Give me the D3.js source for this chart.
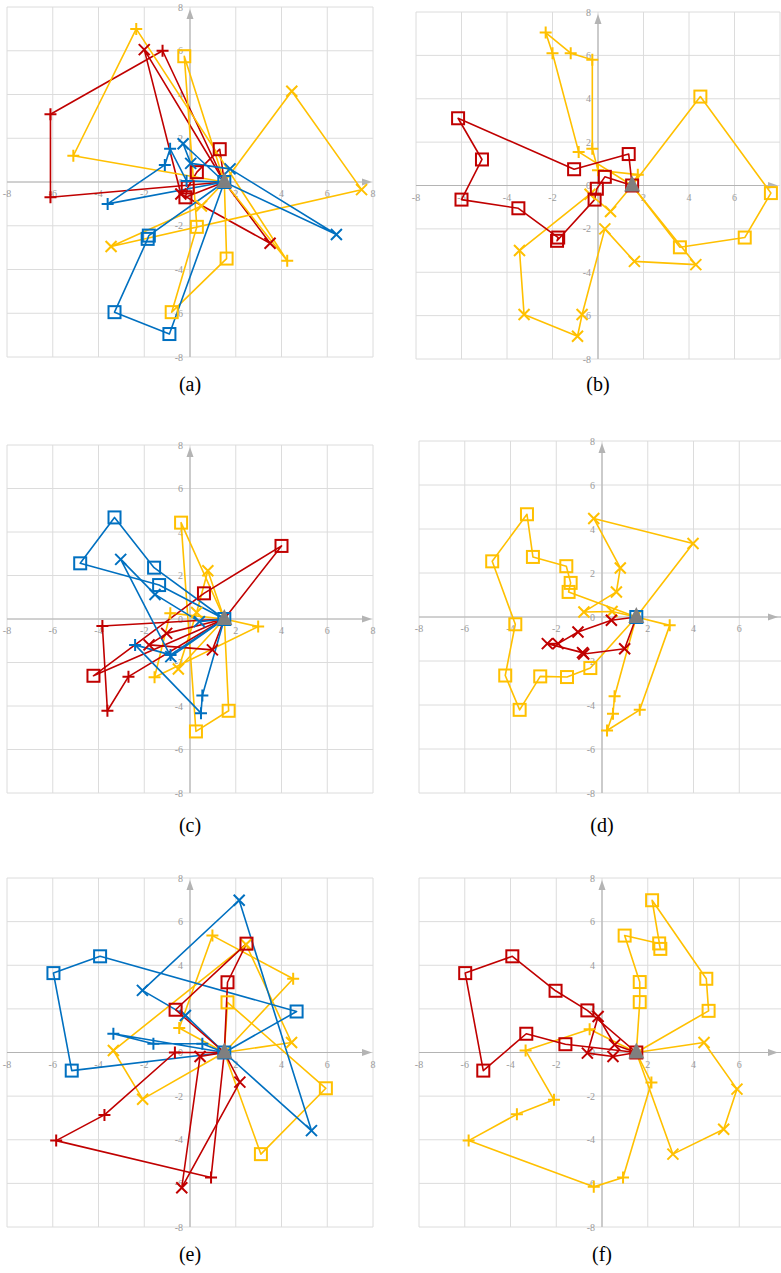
<!DOCTYPE html>
<html><head><meta charset="utf-8">
<script src="https://cdn.jsdelivr.net/npm/d3@7"></script>
<style>html,body{margin:0;padding:0;background:#fff;}svg{display:block;}</style>
</head><body>
<svg id="chart" width="781" height="1273"></svg>
<script>
// ---------- data ----------
const CENTER = [1.5, 0];
const ticks = [-8, -6, -4, -2, 0, 2, 4, 6, 8];
const captions = ["(a)", "(b)", "(c)", "(d)", "(e)", "(f)"];

// panel (a)
const aRedPlus = [[-1.2,6.0],[-6.1,3.1],[-6.1,-0.7]];
const aRedCross = [[-2.0,6.05],[-0.4,-0.55],[3.5,-2.8]];
const aRedSquare = [[1.3,1.5],[0.3,0.45],[-0.1,-0.25],[-0.2,-0.7]];
const aYellowPlus = [[-5.1,1.2],[-2.35,7.0],[4.25,-3.6]];
const aYellowCross = [[4.45,4.15],[7.5,-0.35],[-3.45,-2.95],[0.5,-1.1]];
const aYellowSquare = [[-0.25,5.75],[0.3,-2.05],[-0.8,-5.95],[1.6,-3.5]];
const aBlueSquare = [[-1.8,-2.45],[-1.85,-2.6],[-3.3,-5.95],[-0.9,-6.95]];
const aBluePlus = [[-0.15,0.05],[-0.87,1.52],[-1.1,0.78],[-3.6,-1.0]];
const aBlueCross = [[-0.3,1.75],[0.03,0.85],[1.75,0.6],[6.4,-2.4]];

// panel (b)
const bRedSquare = [[1.35,1.45],[-1.05,0.75],[-6.15,3.1],[-5.1,1.2],[-6.0,-0.65],[-3.5,-1.05],[-1.75,-2.4],[-1.8,-2.55],[-0.15,-0.65],[-0.05,-0.15],[0.3,0.4]];
const bYellowPlus = [[1.75,0.5],[0.0,0.7],[-0.25,1.7],[-0.25,5.8],[-1.2,6.1],[-2.3,7.05],[-2.0,6.1],[-0.85,1.55]];
const bYellowSquare = [[4.5,4.1],[7.6,-0.35],[6.45,-2.4],[3.6,-2.85]];
const bYellowCross = [[0.55,-1.2],[-0.35,-0.4],[-3.45,-3.0],[-3.25,-5.95],[-0.9,-6.95],[-0.7,-5.95],[0.3,-2.0],[1.6,-3.5],[4.3,-3.65]];

// panel (c)
const cRedSquare = [[4.0,3.36],[0.61,1.18],[-4.22,-2.61]];
const cRedPlus = [[-3.83,-0.32],[-3.61,-4.22],[-2.69,-2.65]];
const cRedCross = [[-1.02,-0.66],[-1.79,-1.19],[0.98,-1.42]];
const cYellowSquare = [[-0.39,4.43],[0.26,-5.17],[1.69,-4.22]];
const cYellowCross = [[0.78,2.22],[0.29,0.3],[-0.51,-2.3]];
const cYellowPlus = [[2.98,-0.35],[-1.55,-2.68],[-0.86,0.27]];
const cBlueSquare = [[-1.57,2.36],[-3.3,4.67],[-4.8,2.56],[-1.35,1.56]];
const cBlueCross = [[0.41,-0.12],[-1.53,1.13],[-3.03,2.74],[-0.84,-1.73]];
const cBluePlus = [[-0.85,-1.65],[-2.4,-1.19],[0.48,-4.33],[0.54,-3.52]];

// panel (d)
const dRedCross = [[0.41,-0.15],[-1.05,-0.68],[-1.92,-1.21],[-2.39,-1.21],[-0.85,-1.62],[-0.8,-1.68],[0.99,-1.44]];
const dYellowSquare = [[-1.46,1.14],[-1.37,1.55],[-1.56,2.31],[-3.02,2.73],[-3.28,4.67],[-4.8,2.53],[-3.79,-0.33],[-4.23,-2.66],[-3.6,-4.22],[-2.7,-2.7],[-1.53,-2.73],[-0.51,-2.32]];
const dYellowCross = [[3.98,3.34],[-0.36,4.48],[0.8,2.23],[0.63,1.14],[-0.79,0.23],[0.44,0.25]];
const dYellowPlus = [[2.96,-0.38],[1.65,-4.22],[0.22,-5.16],[0.48,-4.4],[0.55,-3.6]];

// panel (e)
const eRedSquare = [[-0.63,1.96],[2.47,4.99],[1.64,3.22]];
const eRedPlus = [[-0.66,0.0],[-3.74,-2.86],[-5.85,-4.04],[0.92,-5.73]];
const eRedCross = [[0.44,-0.18],[-0.36,-6.2],[2.18,-1.36]];
const eYellowPlus = [[-0.47,1.12],[0.98,5.36],[4.51,3.38]];
const eYellowCross = [[4.44,0.46],[2.45,4.95],[-3.35,0.09],[-2.07,-2.14]];
const eYellowSquare = [[1.64,2.3],[5.94,-1.64],[3.1,-4.66]];
const eBlueSquare = [[4.66,1.88],[-3.93,4.41],[-5.97,3.64],[-5.17,-0.83]];
const eBlueCross = [[-0.2,1.7],[-2.08,2.85],[2.15,6.98],[5.31,-3.58]];
const eBluePlus = [[0.54,0.4],[-1.6,0.4],[-3.35,0.86]];

// panel (f)
const fRedSquare = [[-0.64,1.93],[-2.03,2.83],[-3.92,4.41],[-5.98,3.64],[-5.19,-0.83],[-3.31,0.86],[-1.6,0.38]];
const fRedCross = [[0.55,0.35],[-0.17,1.65],[-0.64,-0.03],[0.48,-0.18]];
const fYellowSquare = [[1.65,2.31],[1.65,3.23],[0.99,5.36],[2.5,5.0],[2.55,4.75],[2.19,6.98],[4.56,3.38],[4.66,1.91]];
const fYellowCross = [[4.46,0.46],[5.9,-1.68],[5.32,-3.52],[3.1,-4.66]];
const fYellowPlus = [[-0.54,1.07],[-3.34,0.09],[-2.1,-2.17],[-3.72,-2.83],[-5.83,-4.04],[-0.36,-6.16],[0.92,-5.73],[2.16,-1.38]];

// ---------- styles / layout ----------
const RED = "#C00000", YEL = "#FFC000", BLU = "#0070C0";
const layout = [
  {cap: 0, xr: [7, 373],   yr: [357, 7],    hub: BLU, cy: 391,
   series: [[aRedPlus, RED, "plus"], [aRedCross, RED, "cross"], [aRedSquare, RED, "square"],
            [aYellowPlus, YEL, "plus"], [aYellowCross, YEL, "cross"], [aYellowSquare, YEL, "square"],
            [aBlueSquare, BLU, "square"], [aBluePlus, BLU, "plus"], [aBlueCross, BLU, "cross"]]},
  {cap: 1, xr: [416, 780], yr: [359, 12],   hub: RED, cy: 391,
   series: [[bYellowPlus, YEL, "plus"], [bYellowSquare, YEL, "square"], [bYellowCross, YEL, "cross"],
            [bRedSquare, RED, "square"]]},
  {cap: 2, xr: [7, 373],   yr: [793, 445],  hub: BLU, cy: 832,
   series: [[cYellowSquare, YEL, "square"], [cYellowCross, YEL, "cross"], [cYellowPlus, YEL, "plus"],
            [cRedSquare, RED, "square"], [cRedPlus, RED, "plus"], [cRedCross, RED, "cross"],
            [cBlueSquare, BLU, "square"], [cBlueCross, BLU, "cross"], [cBluePlus, BLU, "plus"]]},
  {cap: 3, xr: [419, 785], yr: [793, 441],  hub: BLU, cy: 832,
   series: [[dYellowSquare, YEL, "square"], [dYellowCross, YEL, "cross"], [dYellowPlus, YEL, "plus"],
            [dRedCross, RED, "cross"]]},
  {cap: 4, xr: [7, 373],   yr: [1227, 878], hub: BLU, cy: 1261,
   series: [[eYellowPlus, YEL, "plus"], [eYellowCross, YEL, "cross"], [eYellowSquare, YEL, "square"],
            [eBlueSquare, BLU, "square"], [eBlueCross, BLU, "cross"], [eBluePlus, BLU, "plus"],
            [eRedSquare, RED, "square"], [eRedPlus, RED, "plus"], [eRedCross, RED, "cross"]]},
  {cap: 5, xr: [419, 785], yr: [1227, 878], hub: RED, cy: 1261,
   series: [[fYellowSquare, YEL, "square"], [fYellowCross, YEL, "cross"], [fYellowPlus, YEL, "plus"],
            [fRedSquare, RED, "square"], [fRedCross, RED, "cross"]]}
];

const svg = d3.select("#chart");
const W = 781;

function drawMarker(g, type, x, y, color) {
  if (type === "square") {
    g.append("rect").attr("x", x - 6).attr("y", y - 6).attr("width", 12).attr("height", 12)
      .attr("fill", "none").attr("stroke", color).attr("stroke-width", 2);
  } else if (type === "cross") {
    const s = 5.5;
    g.append("path").attr("d", `M${x-s},${y-s}L${x+s},${y+s}M${x-s},${y+s}L${x+s},${y-s}`)
      .attr("stroke", color).attr("stroke-width", 2).attr("fill", "none");
  } else {
    const s = 6;
    g.append("path").attr("d", `M${x-s},${y}L${x+s},${y}M${x},${y-s}L${x},${y+s}`)
      .attr("stroke", color).attr("stroke-width", 2).attr("fill", "none");
  }
}

layout.forEach(p => {
  const xs = d3.scaleLinear().domain([-8, 8]).range(p.xr);
  const ys = d3.scaleLinear().domain([-8, 8]).range(p.yr);
  const g = svg.append("g");

  // grid
  g.selectAll(".gx").data(ticks).join("line")
    .attr("x1", d => xs(d)).attr("x2", d => xs(d)).attr("y1", ys(-8)).attr("y2", ys(8))
    .attr("stroke", "#dcdcdc").attr("stroke-width", 1);
  g.selectAll(".gy").data(ticks).join("line")
    .attr("x1", xs(-8)).attr("x2", xs(8)).attr("y1", d => ys(d)).attr("y2", d => ys(d))
    .attr("stroke", "#dcdcdc").attr("stroke-width", 1);

  // axes
  const ax = "#b4b4b4";
  g.append("line").attr("x1", xs(-8)).attr("x2", xs(8) - 4).attr("y1", ys(0)).attr("y2", ys(0))
    .attr("stroke", ax).attr("stroke-width", 1.2);
  g.append("line").attr("x1", xs(0)).attr("x2", xs(0)).attr("y1", ys(-8)).attr("y2", ys(8) + 6)
    .attr("stroke", ax).attr("stroke-width", 1.2);
  const tx = Math.min(xs(8) - 1, W - 3), ty = ys(0);
  g.append("path").attr("d", `M${tx},${ty}L${tx-10},${ty-3.5}L${tx-10},${ty+3.5}Z`).attr("fill", ax);
  const vx = xs(0), vy = ys(8) + 2;
  g.append("path").attr("d", `M${vx},${vy}L${vx-3.5},${vy+10}L${vx+3.5},${vy+10}Z`).attr("fill", ax);

  // tick labels (skip any that would fall off the page edge)
  g.selectAll(".tx").data(ticks.filter(t => t !== 0 && xs(t) + 6 <= W)).join("text")
    .attr("x", d => xs(d)).attr("y", ys(0) + 15).attr("text-anchor", "middle")
    .attr("font-family", "Liberation Serif, serif").attr("font-size", "10px").attr("fill", "#9a9a9a")
    .text(d => d);
  g.selectAll(".ty").data(ticks).join("text")
    .attr("x", xs(0) - 7).attr("y", d => ys(d) + 3.5).attr("text-anchor", "end")
    .attr("font-family", "Liberation Serif, serif").attr("font-size", "10px").attr("fill", "#9a9a9a")
    .text(d => d);

  // series
  const line = d3.line().x(d => xs(d[0])).y(d => ys(d[1]));
  p.series.forEach(([pts, color]) => {
    g.append("path").attr("d", line([CENTER, ...pts, CENTER]))
      .attr("fill", "none").attr("stroke", color).attr("stroke-width", 1.6).attr("stroke-linejoin", "round");
  });
  p.series.forEach(([pts, color, type]) => {
    pts.forEach(d => drawMarker(g, type, xs(d[0]), ys(d[1]), color));
  });

  // hub marker + triangle
  drawMarker(g, "square", xs(CENTER[0]), ys(CENTER[1]), p.hub);
  const cx = xs(CENTER[0]), cyy = ys(CENTER[1]);
  g.append("path").attr("d", `M${cx},${cyy-10}L${cx-8},${cyy+6}L${cx+8},${cyy+6}Z`).attr("fill", "#7f7f7f");

  // caption
  svg.append("text").attr("x", xs(0)).attr("y", p.cy).attr("text-anchor", "middle")
    .attr("font-family", "Liberation Serif, serif").attr("font-size", "20px").attr("fill", "#000")
    .text(captions[p.cap]);
});
</script>
</body></html>
